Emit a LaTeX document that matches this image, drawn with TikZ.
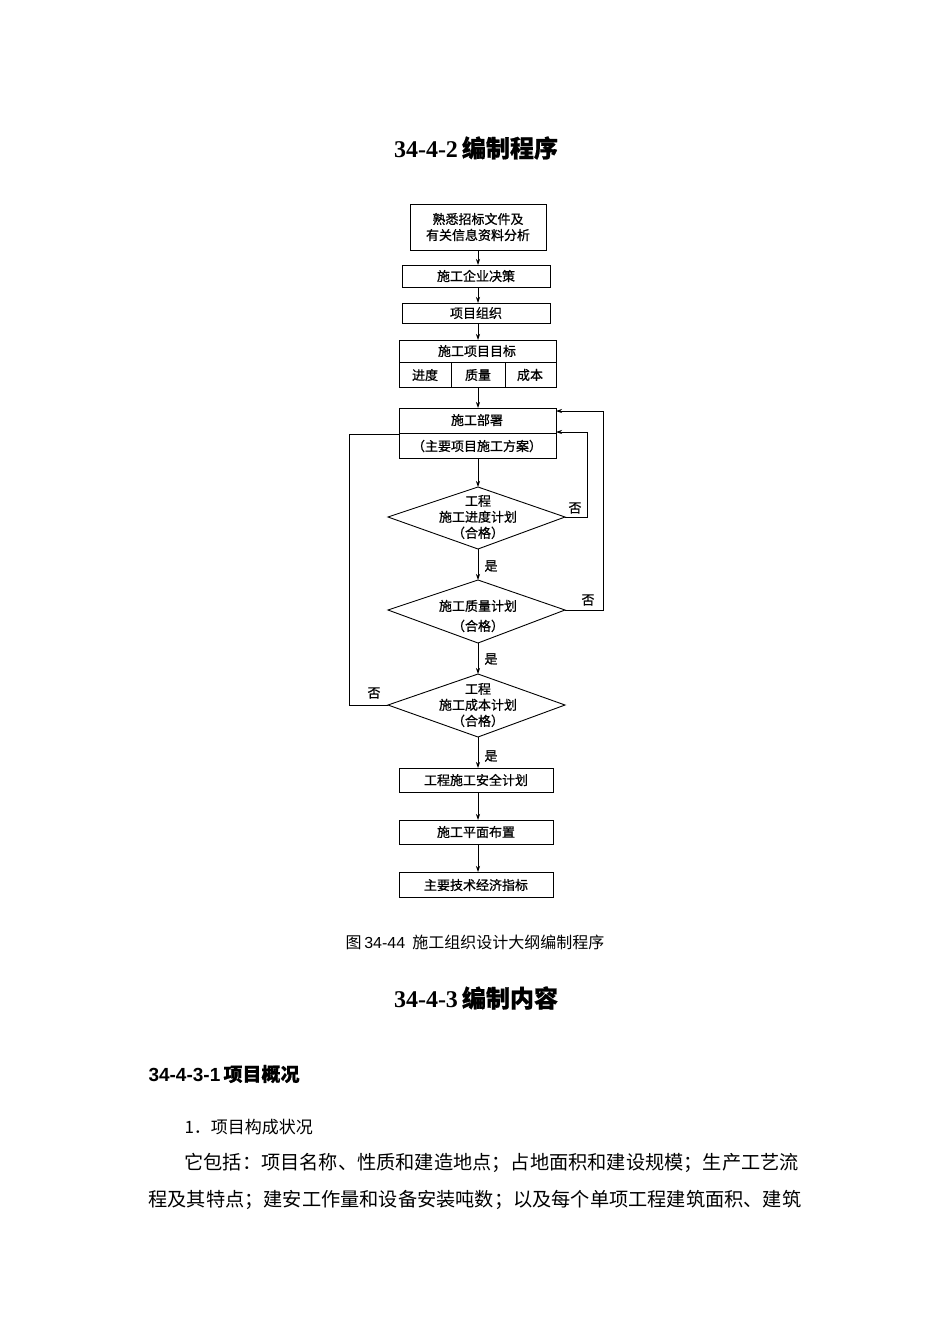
\documentclass[tikz,border=0pt]{standalone}
\usepackage{fontspec}
\setmainfont{Liberation Serif}
\newfontfamily\cjk{Noto Sans CJK SC}
\newfontfamily\cjkb[FakeBold=0.8]{Noto Sans CJK SC}
\newfontfamily\lsans{Liberation Sans}
\usetikzlibrary{arrows.meta}
\begin{document}
\begin{tikzpicture}[x=1pt,y=-1pt,
  bx/.style={draw,line width=0.9pt},
  ft/.style={font=\cjkb\fontsize{13}{16}\selectfont,align=center},
  ar/.style={-{Stealth[length=6pt,width=4pt]},line width=0.7pt},
  ln/.style={line width=0.7pt}]
\useasboundingbox (0,0) rectangle (950,1344);
% boxes
\draw[bx] (410,204) rectangle (546,250);
\node[ft] (b1) at (478,227) {熟悉招标文件及\\有关信息资料分析};
\draw[bx] (402,265) rectangle (550,287); \node[ft] (b2) at (476,276) {施工企业决策};
\draw[bx] (402,303) rectangle (550,323); \node[ft] (b3) at (476,313) {项目组织};
\draw[bx] (399,340) rectangle (556,387);
\draw[bx] (399,362) -- (556,362) (451,362) -- (451,387) (505,362) -- (505,387);
\node[ft] (b4) at (477,351) {施工项目目标};
\node[ft] (b4a) at (425,375) {进度};
\node[ft] (b4b) at (478,375) {质量};
\node[ft] (b4c) at (530,375) {成本};
\draw[bx] (399,408) rectangle (556,458); \draw[bx] (399,433) -- (556,433);
\node[ft] (b5) at (477,420) {施工部署};
\node[ft] (b5b) at (477,446) {（主要项目施工方案）};
% diamonds
\draw[bx] (388,517) -- (478,487) -- (565,517) -- (478,549) -- cycle;
\node[ft] (d1) at (478,517) {工程\\施工进度计划\\（合格）};
\draw[bx] (388,610) -- (478,580) -- (565,610) -- (478,643) -- cycle;
\node[ft,align=center] (d2) at (478,616) {施工质量计划\\[4pt]（合格）};
\draw[bx] (388,705) -- (478,674) -- (565,705) -- (478,737) -- cycle;
\node[ft] (d3) at (478,705) {工程\\施工成本计划\\（合格）};
\draw[bx] (399,768) rectangle (553,792); \node[ft] (b6) at (476,780) {工程施工安全计划};
\draw[bx] (399,820) rectangle (553,844); \node[ft] (b7) at (476,832) {施工平面布置};
\draw[bx] (399,872) rectangle (553,897); \node[ft] (b8) at (476,885) {主要技术经济指标};
% arrows
\draw[ar] (478,250) -- (478,265);
\draw[ar] (478,287) -- (478,303);
\draw[ar] (478,323) -- (478,340);
\draw[ar] (478,387) -- (478,408);
\draw[ar] (478,458) -- (478,487);
\draw[ar] (478,549) -- (478,580);
\draw[ar] (478,643) -- (478,674);
\draw[ar] (478,737) -- (478,768);
\draw[ar] (478,792) -- (478,820);
\draw[ar] (478,844) -- (478,872);
\draw[ar] (565,517) -- (587,517) -- (587,432) -- (556,432);
\draw[ar] (565,610) -- (603,610) -- (603,411) -- (556,411);
\draw[ln] (388,705) -- (349,705) -- (349,434) -- (399,434);
\node[ft] (n1) at (575,508) {否};
\node[ft] (n2) at (588,600) {否};
\node[ft] (n3) at (374,693) {否};
\node[ft] (y1) at (491,566) {是};
\node[ft] (y2) at (491,659) {是};
\node[ft] (y3) at (491,756) {是};
% texts
\node[font=\bfseries\fontsize{24}{28}\selectfont] (t1) at (476,148) {34-4-2\,{\cjkb 编制程序}};
\node[font=\cjk\fontsize{16}{20}\selectfont] (cap) at (475,942) {图\,{\lsans 34-44}\ \ 施工组织设计大纲编制程序};
\node[font=\bfseries\fontsize{24}{28}\selectfont] (t2) at (476,998) {34-4-3\,{\cjkb 编制内容}};
\node[anchor=west,font=\lsans\bfseries\fontsize{19}{23}\selectfont] (t3) at (145,1074) {34-4-3-1\,{\cjkb 项目概况}};
\node[anchor=west,font=\cjk\fontsize{17}{21}\selectfont] (p1) at (181,1127) {1．项目构成状况};
\node[anchor=west,font=\cjk\fontsize{19.2}{23}\selectfont] (p2) at (181,1163) {它包括：项目名称、性质和建造地点；占地面积和建设规模；生产工艺流};
\node[anchor=west,font=\cjk\fontsize{19.2}{23}\selectfont] (p3) at (145,1200) {程及其特点；建安工作量和设备安装吨数；以及每个单项工程建筑面积、建筑};
\end{tikzpicture}
\end{document}
